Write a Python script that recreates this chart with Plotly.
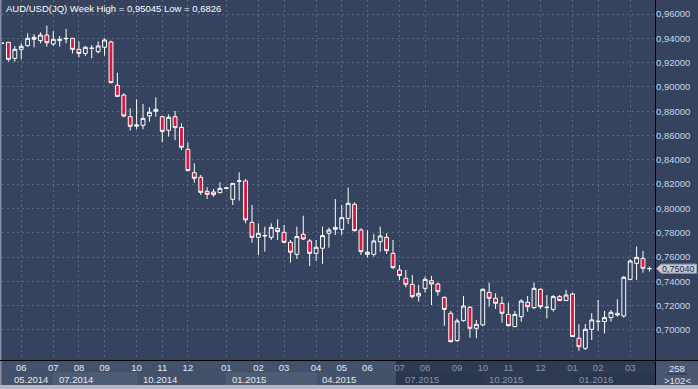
import plotly.graph_objects as go

# ---------------- data (weekly candles, AUD/USD) ----------------
week_index = list(range(102))

opens = [0.9358, 0.9367, 0.9235, 0.9309, 0.9339, 0.9408, 0.9381, 0.9427, 0.9353, 0.9381,
         0.9396, 0.9400, 0.9309, 0.9276, 0.9317, 0.9290, 0.9326, 0.9370, 0.9013, 0.8933,
         0.8755, 0.8677, 0.8684, 0.8761, 0.8815, 0.8755, 0.8643, 0.8755, 0.8667, 0.8486,
         0.8294, 0.8256, 0.8141, 0.8135, 0.8130, 0.8166, 0.8075, 0.8223, 0.8226, 0.7885,
         0.7762, 0.7773, 0.7762, 0.7836, 0.7803, 0.7721, 0.7622, 0.7787, 0.7732, 0.7630,
         0.7672, 0.7795, 0.7828, 0.7828, 0.7918, 0.8034, 0.7822, 0.7639, 0.7622, 0.7726,
         0.7762, 0.7630, 0.7493, 0.7425, 0.7375, 0.7279, 0.7342, 0.7405, 0.7378, 0.7268,
         0.7137, 0.6912, 0.7076, 0.7186, 0.7013, 0.7041, 0.7309, 0.7260, 0.7219, 0.7128,
         0.7027, 0.7109, 0.7227, 0.7183, 0.7334, 0.7183, 0.7169, 0.7274, 0.7241, 0.7296,
         0.6931, 0.6849, 0.7005, 0.7068, 0.7068, 0.7101, 0.7137, 0.7115, 0.7416, 0.7548,
         0.7589, 0.7505]
highs = [0.9364, 0.9370, 0.9337, 0.9359, 0.9441, 0.9435, 0.9449, 0.95045, 0.9460, 0.9419,
         0.9477, 0.9401, 0.9375, 0.9337, 0.9345, 0.9375, 0.9400, 0.9381, 0.9117, 0.8947,
         0.8824, 0.8898, 0.8859, 0.8832, 0.8914, 0.8761, 0.8774, 0.8802, 0.8700, 0.8544,
         0.8371, 0.8275, 0.8174, 0.8160, 0.8215, 0.8170, 0.8208, 0.8297, 0.8242, 0.8028,
         0.7877, 0.7850, 0.7877, 0.7910, 0.7864, 0.7740, 0.7850, 0.7940, 0.7748, 0.7740,
         0.7850, 0.7842, 0.8077, 0.8028, 0.8171, 0.8050, 0.7836, 0.7822, 0.7789, 0.7850,
         0.7795, 0.7740, 0.7534, 0.7493, 0.7452, 0.7370, 0.7438, 0.7444, 0.7389, 0.7274,
         0.7156, 0.7095, 0.7279, 0.7197, 0.7082, 0.7342, 0.7389, 0.7301, 0.7274, 0.7224,
         0.7156, 0.7252, 0.7279, 0.7389, 0.7342, 0.7287, 0.7287, 0.7287, 0.7329, 0.7307,
         0.7046, 0.7049, 0.7137, 0.7246, 0.7156, 0.7164, 0.7252, 0.7444, 0.7581, 0.7685,
         0.7650, 0.7521]
lows = [0.9352, 0.9208, 0.9208, 0.9227, 0.9331, 0.9326, 0.9359, 0.9331, 0.9337, 0.9331,
        0.9359, 0.9276, 0.9243, 0.9254, 0.9235, 0.9276, 0.9257, 0.9029, 0.8920, 0.8750,
        0.8640, 0.8651, 0.8651, 0.8714, 0.8755, 0.8544, 0.8591, 0.8563, 0.8481, 0.8308,
        0.8212, 0.8111, 0.8078, 0.8097, 0.8124, 0.8162, 0.8028, 0.8064, 0.7877, 0.7718,
        0.7617, 0.7644, 0.7740, 0.7740, 0.7713, 0.7554, 0.7584, 0.7740, 0.7526, 0.7570,
        0.7543, 0.7677, 0.7781, 0.7781, 0.7872, 0.7809, 0.7617, 0.7595, 0.7603, 0.7644,
        0.7625, 0.7501, 0.7411, 0.7350, 0.7260, 0.7233, 0.7307, 0.7205, 0.7282, 0.7035,
        0.6898, 0.6903, 0.7068, 0.6936, 0.6931, 0.7032, 0.7191, 0.7172, 0.7060, 0.7027,
        0.7021, 0.7068, 0.7150, 0.7170, 0.7172, 0.7095, 0.7150, 0.7238, 0.7238, 0.6943,
        0.6826, 0.6835, 0.6917, 0.6994, 0.6972, 0.7068, 0.7109, 0.7101, 0.7411, 0.7411,
        0.7471, 0.7480]
closes = [0.9360, 0.9227, 0.9309, 0.9334, 0.9400, 0.9392, 0.9427, 0.9364, 0.9392, 0.9392,
          0.9399, 0.9309, 0.9276, 0.9326, 0.9319, 0.9337, 0.9386, 0.9035, 0.8922, 0.8761,
          0.8676, 0.8686, 0.8741, 0.8791, 0.8799, 0.8634, 0.8750, 0.8665, 0.8503, 0.8311,
          0.8248, 0.8132, 0.8116, 0.8113, 0.8165, 0.8168, 0.8206, 0.8226, 0.7905, 0.7762,
          0.7795, 0.7776, 0.7844, 0.7809, 0.7721, 0.7639, 0.7768, 0.7748, 0.7630, 0.7680,
          0.7776, 0.7822, 0.7844, 0.7924, 0.8042, 0.7817, 0.7644, 0.7622, 0.7732, 0.7773,
          0.7652, 0.7512, 0.7447, 0.7375, 0.7274, 0.7301, 0.7416, 0.7378, 0.7315, 0.7169,
          0.6903, 0.7074, 0.7197, 0.7013, 0.7046, 0.7334, 0.7260, 0.7219, 0.7137, 0.7035,
          0.7128, 0.7238, 0.7191, 0.7342, 0.7191, 0.7186, 0.7274, 0.7241, 0.7287, 0.6945,
          0.6862, 0.7005, 0.7082, 0.7071, 0.7101, 0.7145, 0.7123, 0.7433, 0.7567, 0.7597,
          0.7507, 0.7504]

month_tick_index = [3, 8, 12, 16, 21, 25, 29, 35, 40, 44, 49, 53, 57, 62, 66, 71, 75, 79, 84, 89, 93, 98]
month_tick_labels = ["06", "07", "08", "09", "10", "11", "12", "01", "02", "03", "04",
                     "05", "06", "07", "08", "09", "10", "11", "12", "01", "02", "03"]
quarter_start_index = [0, 8, 21, 35, 49, 62, 75, 89]
quarter_labels = ["05.2014", "07.2014", "10.2014", "01.2015", "04.2015", "07.2015", "10.2015", "01.2016"]
y_tick_values = [0.70, 0.72, 0.74, 0.76, 0.78, 0.80, 0.82, 0.84, 0.86, 0.88, 0.90, 0.92, 0.94, 0.96]
title_text = "AUD/USD(JQ) Week High = 0,95045 Low = 0,6826"
last_price_text = "0,75040"
bars_total_text = "258"
bars_visible_text = ">102<"

# ---------------- geometry / style ----------------
W, H = 698, 389
PL, PR, PT, PB = 2, 655, 0, 360          # plot area in pixels
XMAX = 101.87
YMIN, YMAX = 0.67523, 0.97152
BG = "#35435e"
RED = "#dc143c"
FONT = "Liberation Sans, Arial, sans-serif"
FS = 9.5


def px(x):
    return (x - PL) / (PR - PL)


def py(y):
    return (PB - y) / (PB - PT)


dark_start = 61.6
light_txt = "#e4e9f2"
dim_txt = "#8893a8"

ticktext = []
for pos, lab in zip(month_tick_index, month_tick_labels):
    col = light_txt if pos < dark_start else dim_txt
    ticktext.append('<span style="color:%s">%s</span>' % (col, lab))

fig = go.Figure()
fig.add_trace(go.Candlestick(
    x=week_index, open=opens, high=highs, low=lows, close=closes,
    increasing=dict(line=dict(color="#ffffff", width=1), fillcolor=BG),
    decreasing=dict(line=dict(color="#ffffff", width=1), fillcolor=RED),
    whiskerwidth=0, hoverinfo="skip", showlegend=False,
))

shapes = []
row1_top, row_mid, row2_bot = 360.5, 373, 385
# band background
shapes.append(dict(type="rect", xref="paper", yref="paper", x0=px(0), x1=px(655),
                   y0=py(row2_bot), y1=py(row1_top), fillcolor="#44516a", line_width=0, layer="below"))
# quarter boxes (alternating)
for k in range(len(quarter_start_index)):
    x0 = quarter_start_index[k]
    x1 = quarter_start_index[k + 1] if k + 1 < len(quarter_start_index) else XMAX
    if k % 2 == 1:
        inside_dark = x0 >= dark_start
        shapes.append(dict(type="rect", xref="x", yref="paper", x0=x0, x1=x1,
                           y0=py(row2_bot), y1=py(row_mid),
                           fillcolor="#3a4761" if inside_dark else "#4e5b75",
                           line=dict(color="#56627b" if not inside_dark else "#414e68", width=1),
                           layer="below"))
# dark (out-of-window) region
shapes.append(dict(type="rect", xref="x", yref="paper", x0=dark_start, x1=XMAX,
                   y0=py(row2_bot), y1=py(row1_top), fillcolor="rgba(30,40,60,0.55)",
                   line_width=0, layer="below"))
shapes.append(dict(type="line", xref="x", yref="paper", x0=dark_start, x1=dark_start,
                   y0=py(row2_bot), y1=py(row1_top), line=dict(color="#2a3347", width=2), layer="below"))
# lower right box
shapes.append(dict(type="rect", xref="paper", yref="paper", x0=px(655.5), x1=px(698),
                   y0=py(row2_bot), y1=py(row1_top), fillcolor="#4a5670", line_width=0, layer="below"))
shapes.append(dict(type="line", xref="paper", yref="paper", x0=px(667), x1=px(687),
                   y0=py(374), y1=py(374), line=dict(color="#26303f", width=1), layer="above"))
# frame strips
shapes.append(dict(type="rect", xref="paper", yref="paper", x0=px(0), x1=px(698),
                   y0=py(389), y1=py(385), fillcolor="#b4bac4", line_width=0, layer="above"))
shapes.append(dict(type="rect", xref="paper", yref="paper", x0=px(0), x1=px(1.5),
                   y0=py(385), y1=py(0), fillcolor="#858da0", line_width=0, layer="above"))
# black separators
shapes.append(dict(type="line", xref="paper", yref="paper", x0=px(0), x1=px(698),
                   y0=py(360.5), y1=py(360.5), line=dict(color="#000000", width=1), layer="above"))
shapes.append(dict(type="line", xref="paper", yref="paper", x0=px(655.5), x1=px(655.5),
                   y0=py(385), y1=py(0), line=dict(color="#000000", width=1), layer="above"))

# last price marker (arrow box)
yl = closes[-1]
frac = (yl - YMIN) / (YMAX - YMIN)
ylp = PB - frac * (PB - PT)
path = "M %f,%f L %f,%f L %f,%f L %f,%f L %f,%f Z" % (
    px(656.5), py(ylp), px(661), py(ylp - 4.5), px(696.5), py(ylp - 4.5),
    px(696.5), py(ylp + 4.5), px(661), py(ylp + 4.5))
shapes.append(dict(type="path", xref="paper", yref="paper", path=path,
                   fillcolor="#c6cbd4", line=dict(color="#9aa2b0", width=1), layer="above"))

annotations = [
    dict(text=title_text, xref="paper", yref="paper", x=px(4), y=py(8), xanchor="left",
         yanchor="middle", showarrow=False, font=dict(family=FONT, size=FS, color="#ffffff")),
    dict(text=last_price_text, xref="paper", yref="y", x=px(678.5), y=yl, xanchor="center",
         yanchor="middle", showarrow=False, borderpad=0,
         font=dict(family=FONT, size=9, color="#1f2b42")),
    dict(text=bars_total_text, xref="paper", yref="paper", x=px(677), y=py(368), xanchor="center",
         yanchor="middle", showarrow=False, font=dict(family=FONT, size=FS, color="#dde3ee")),
    dict(text=bars_visible_text, xref="paper", yref="paper", x=px(677), y=py(380), xanchor="center",
         yanchor="middle", showarrow=False, font=dict(family=FONT, size=FS, color="#dde3ee")),
]
for k, (q, lab) in enumerate(zip(quarter_start_index, quarter_labels)):
    col = light_txt if q < dark_start else dim_txt
    annotations.append(dict(text=lab, xref="x", yref="paper", x=q, y=py(379.5),
                            xanchor="left", yanchor="middle", xshift=(10 if k == 0 else 4),
                            showarrow=False, font=dict(family=FONT, size=FS, color=col)))

fig.update_layout(
    width=W, height=H,
    margin=dict(l=PL, r=W - PR, t=PT, b=H - PB, pad=0),
    paper_bgcolor=BG, plot_bgcolor=BG,
    separators=",.",
    showlegend=False,
    boxgap=0.4, boxgroupgap=0,
    shapes=shapes, annotations=annotations,
    font=dict(family=FONT, size=FS, color=light_txt),
    xaxis=dict(range=[0, XMAX], tickvals=month_tick_index, ticktext=ticktext,
               showgrid=True, gridcolor="#5a6884", griddash="2px,3px", gridwidth=1,
               zeroline=False, showline=False, ticks="", rangeslider=dict(visible=False),
               tickfont=dict(family=FONT, size=FS), fixedrange=True),
    yaxis=dict(range=[YMIN, YMAX], side="right", tickvals=y_tick_values,
               tickformat=".5f", showgrid=True, gridcolor="#5a6884", griddash="2px,3px",
               gridwidth=1, zeroline=False, showline=False, ticks="",
               tickfont=dict(family=FONT, size=FS, color="#c2d6f0"), fixedrange=True),
)

fig.write_html("out.html", config={"displayModeBar": False},
               post_script="document.body.style.margin='0';document.body.style.padding='0';"
                           "document.documentElement.style.overflow='hidden';")
